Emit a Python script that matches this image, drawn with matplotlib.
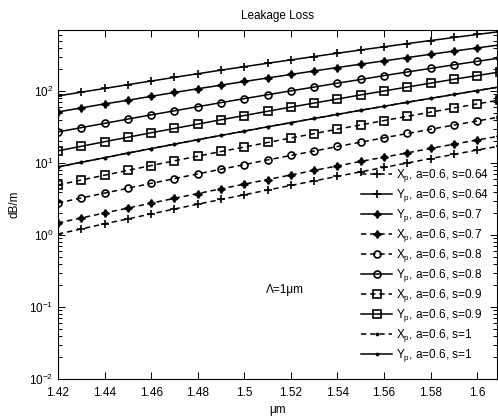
import matplotlib
matplotlib.use("Agg")
import matplotlib.pyplot as plt
import numpy as np
from matplotlib.ticker import LogLocator, NullFormatter, MultipleLocator

plt.rcParams['font.family'] = ['Liberation Sans', 'DejaVu Sans']
plt.rcParams['mathtext.default'] = 'regular'
plt.rcParams['font.size'] = 8.5

# wavelength grid (um)
wl = [1.42, 1.43, 1.44, 1.45, 1.46, 1.47, 1.48, 1.49, 1.50, 1.51,
      1.52, 1.53, 1.54, 1.55, 1.56, 1.57, 1.58, 1.59, 1.60, 1.61]

# leakage loss in dB/m, a=0.6
xp_064 = [1.03, 1.21, 1.43, 1.67, 1.96, 2.29, 2.67, 3.11, 3.61, 4.20,
          4.87, 5.63, 6.51, 7.52, 8.67, 9.97, 11.5, 13.1, 15.1, 17.2]
yp_064 = [85, 96, 108, 122, 137, 154, 173, 194, 217, 242,
          269, 300, 333, 370, 409, 453, 500, 551, 607, 667]
yp_07 = [51, 58, 66, 74, 84, 95, 107, 120, 135, 151,
         169, 189, 211, 235, 261, 290, 322, 357, 395, 436]
xp_07 = [1.47, 1.72, 2.02, 2.36, 2.76, 3.22, 3.75, 4.37, 5.07, 5.88,
         6.80, 7.87, 9.08, 10.5, 12.0, 13.8, 15.9, 18.2, 20.8, 23.7]
xp_08 = [2.78, 3.26, 3.81, 4.45, 5.20, 6.05, 7.04, 8.17, 9.47, 11.0,
         12.7, 14.6, 16.9, 19.4, 22.3, 25.6, 29.3, 33.5, 38.2, 43.6]
yp_08 = [26.9, 30.9, 35.4, 40.6, 46.4, 52.9, 60.3, 68.7, 78.0, 88.5,
         100, 113, 128, 144, 163, 183, 205, 230, 257, 287]
xp_09 = [4.94, 5.78, 6.75, 7.88, 9.18, 10.7, 12.4, 14.4, 16.6, 19.2,
         22.2, 25.5, 29.4, 33.7, 38.7, 44.3, 50.7, 57.8, 65.9, 75.0]
yp_09 = [14.7, 17.0, 19.7, 22.7, 26.2, 30.1, 34.6, 39.7, 45.5, 52.1,
         59.5, 67.8, 77.2, 87.8, 99.7, 113, 128, 145, 163, 184]
# at s=1 the two polarisations coincide
xp_1 = [8.79, 10.2, 11.8, 13.7, 15.8, 18.2, 21.0, 24.1, 27.6, 31.7,
        36.2, 41.4, 47.2, 53.8, 61.2, 69.5, 78.8, 89.2, 101, 114]
yp_1 = [8.79, 10.2, 11.8, 13.7, 15.8, 18.2, 21.0, 24.1, 27.6, 31.7,
        36.2, 41.4, 47.2, 53.8, 61.2, 69.5, 78.8, 89.2, 101, 114]

star4 = (4, 1, 0)
dash = (0, (3.5, 2.5))
curves = [
    (xp_064, dash, '+', 6, 'none', 'X$_p$, a=0.6, s=0.64'),
    (yp_064, '-', '+', 6, 'none', 'Y$_p$, a=0.6, s=0.64'),
    (yp_07, '-', star4, 5.5, 'k', 'Y$_p$, a=0.6, s=0.7'),
    (xp_07, dash, star4, 5.5, 'k', 'X$_p$, a=0.6, s=0.7'),
    (xp_08, dash, 'o', 5, 'none', 'X$_p$, a=0.6, s=0.8'),
    (yp_08, '-', 'o', 5, 'none', 'Y$_p$, a=0.6, s=0.8'),
    (xp_09, dash, 's', 5.5, 'none', 'X$_p$, a=0.6, s=0.9'),
    (yp_09, '-', 's', 5.5, 'none', 'Y$_p$, a=0.6, s=0.9'),
    (xp_1, dash, '.', 3, 'k', 'X$_p$, a=0.6, s=1'),
    (yp_1, '-', '.', 3, 'k', 'Y$_p$, a=0.6, s=1'),
]

fig = plt.figure(figsize=(4.98, 4.2), dpi=100)
ax = fig.add_axes([58 / 498, 1 - 379 / 420, 439 / 498, 349 / 420])

for vals, ls, mk, ms, mfc, lab in curves:
    ax.plot(wl, vals, color='k', linestyle=ls, linewidth=1.1,
            marker=mk, markersize=ms, markerfacecolor=mfc,
            markeredgecolor='k', markeredgewidth=1.2, label=lab)

ax.set_yscale('log')
ax.set_xlim(1.42, 1.6085)
ax.set_ylim(1e-2, 700)
ax.xaxis.set_major_locator(MultipleLocator(0.02))
ax.xaxis.set_major_formatter(plt.FuncFormatter(lambda v, p: f"{v:g}"))
ax.yaxis.set_major_locator(LogLocator(base=10, numticks=10))
ax.yaxis.set_minor_locator(LogLocator(base=10, subs=np.arange(2, 10), numticks=20))
ax.yaxis.set_minor_formatter(NullFormatter())
ax.tick_params(which='both', direction='in', top=True, right=True,
               labelsize=8.5, width=0.7)
ax.tick_params(which='major', length=5)
ax.tick_params(which='minor', length=3)
ax.tick_params(axis='x', pad=6)
for sp in ax.spines.values():
    sp.set_linewidth(0.8)

ax.set_title('Leakage Loss', fontsize=8.5, pad=8)
ax.set_xlabel('\u03bcm', fontsize=8.5, labelpad=3)
ax.set_ylabel('dB/m', fontsize=8.5, labelpad=6)
ax.text(1.5175, 0.17, '\u039b=1\u03bcm', ha='center', va='center', fontsize=8.5)

ax.legend(loc='lower right', frameon=False, fontsize=8.5, handlelength=2.6,
          labelspacing=0.25, borderaxespad=0.3, handletextpad=0.3,
          bbox_to_anchor=(1.0, 0.02))

fig.savefig('out.png', dpi=100)
